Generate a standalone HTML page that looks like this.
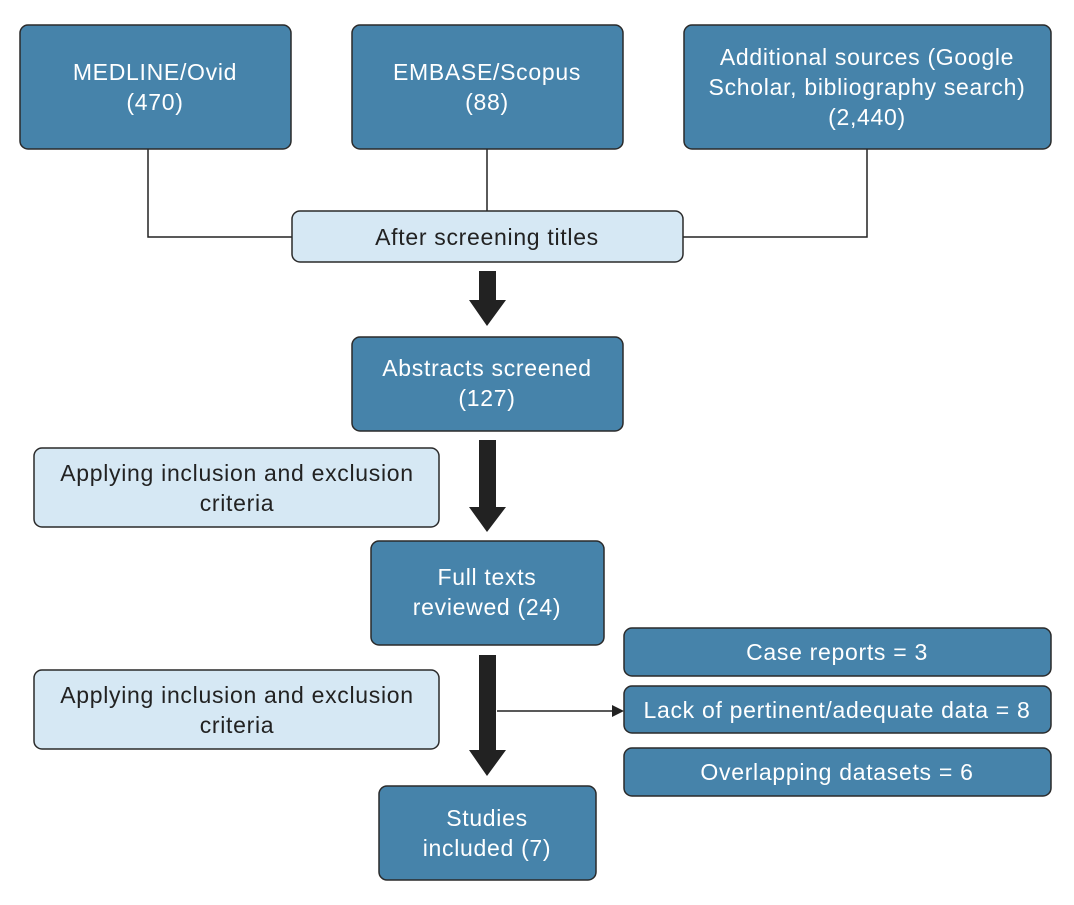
<!DOCTYPE html>
<html><head><meta charset="utf-8"><style>
html,body{margin:0;padding:0;background:#fff}
svg{display:block}
text{font-family:"Liberation Sans",sans-serif;font-size:23px;letter-spacing:0.7px;text-anchor:middle}
.d{fill:#4683aa;stroke:#2a2a2a;stroke-width:1.5}
.l{fill:#d6e8f4;stroke:#2a2a2a;stroke-width:1.5}
.w{fill:#fff}
.k{fill:#222}
</style></head><body>
<svg width="1074" height="905" viewBox="0 0 1074 905">
<g fill="none" stroke="#222" stroke-width="1.5">
<polyline points="148,149 148,237 292,237"/>
<line x1="487" y1="149" x2="487" y2="211"/>
<polyline points="867,149 867,237 683,237"/>
<line x1="497" y1="711" x2="614" y2="711"/>
</g>
<polygon points="612,705 624,711 612,717" fill="#222"/>
<rect class="d" x="20" y="25" width="271" height="124" rx="8"/>
<text class="w" x="155" y="80">MEDLINE/Ovid</text>
<text class="w" x="155" y="110">(470)</text>
<rect class="d" x="352" y="25" width="271" height="124" rx="8"/>
<text class="w" x="487" y="80">EMBASE/Scopus</text>
<text class="w" x="487" y="110">(88)</text>
<rect class="d" x="684" y="25" width="367" height="124" rx="8"/>
<text class="w" x="867" y="65">Additional sources (Google</text>
<text class="w" x="867" y="95">Scholar, bibliography search)</text>
<text class="w" x="867" y="125">(2,440)</text>
<rect class="l" x="292" y="211" width="391" height="51" rx="8"/>
<text class="k" x="487" y="245">After screening titles</text>
<polygon class="k" points="479,271 496,271 496,300 506,300 487,326 469,300 479,300"/>
<rect class="d" x="352" y="337" width="271" height="94" rx="8"/>
<text class="w" x="487" y="376">Abstracts screened</text>
<text class="w" x="487" y="406">(127)</text>
<polygon class="k" points="479,440 496,440 496,507 506,507 487,532 469,507 479,507"/>
<rect class="l" x="34" y="448" width="405" height="79" rx="8"/>
<text class="k" x="237" y="481">Applying inclusion and exclusion</text>
<text class="k" x="237" y="511">criteria</text>
<rect class="d" x="371" y="541" width="233" height="104" rx="8"/>
<text class="w" x="487" y="585">Full texts</text>
<text class="w" x="487" y="615">reviewed (24)</text>
<polygon class="k" points="479,655 496,655 496,750 506,750 487,776 469,750 479,750"/>
<rect class="l" x="34" y="670" width="405" height="79" rx="8"/>
<text class="k" x="237" y="703">Applying inclusion and exclusion</text>
<text class="k" x="237" y="733">criteria</text>
<rect class="d" x="624" y="628" width="427" height="48" rx="8"/>
<text class="w" x="837" y="660">Case reports = 3</text>
<rect class="d" x="624" y="686" width="427" height="47" rx="8"/>
<text class="w" x="837" y="718">Lack of pertinent/adequate data = 8</text>
<rect class="d" x="624" y="748" width="427" height="48" rx="8"/>
<text class="w" x="837" y="780">Overlapping datasets = 6</text>
<rect class="d" x="379" y="786" width="217" height="94" rx="8"/>
<text class="w" x="487" y="826">Studies</text>
<text class="w" x="487" y="856">included (7)</text>
</svg>
</body></html>
